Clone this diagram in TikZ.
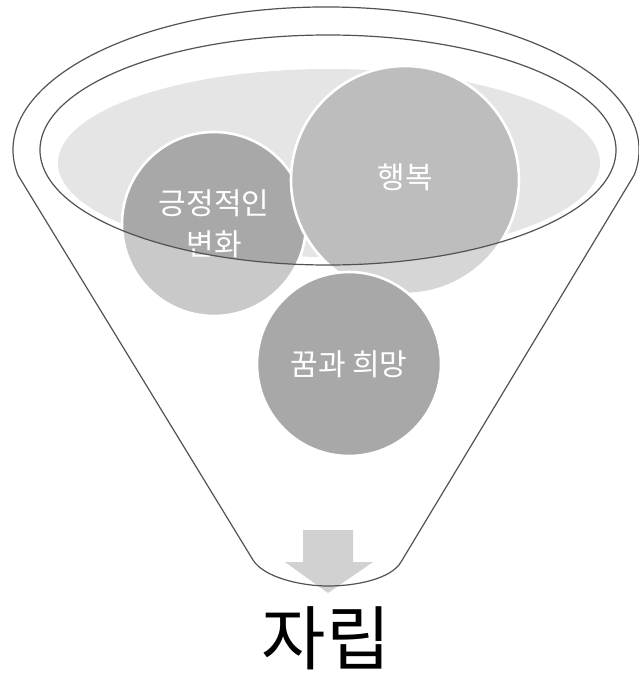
\documentclass[tikz,border=0pt]{standalone}
\usepackage{fontspec}
\newfontfamily\kr{Noto Sans CJK KR}
\begin{document}
\begin{tikzpicture}[x=1pt,y=-1pt,
  rimline/.style={draw=black!68, line width=1.2pt},
  ball/.style={circle, inner sep=0pt, draw=white, line width=2.6pt, text=white,
    font=\kr\fontsize{30}{43}\selectfont, align=center}]
\useasboundingbox (0,0) rectangle (639,677);
% light gray pool inside the rim
\fill[black!10] (329,163) ellipse [x radius=271, y radius=94];
% circles behind the rim
\node[ball, fill=black!34, minimum size=184pt] (pos) at (214,224) {\raisebox{-2pt}{긍정적인}\\변화};
\node[ball, fill=black!26, minimum size=228pt] (hap) at (405,180) {\raisebox{8pt}{행복}};
% whitish front of the funnel body
\fill[white, opacity=0.38, even odd rule]
  (17.8,174.8) arc[start angle=170, end angle=370, x radius=313, y radius=143]
  -- (401,562) .. controls (391,579) and (356,586) .. (328,586)
  .. controls (300,586) and (263.5,577) .. (253,560) -- cycle
  (328,150) ellipse [x radius=288, y radius=115];
% arrow
\fill[black!18] (303,530) -- (353,530) -- (353,562) -- (373,562) -- (328,593)
  -- (285,562) -- (303,562) -- cycle;
% funnel outline and rim
\draw[rimline, line join=round]
  (17.8,174.8) arc[start angle=170, end angle=370, x radius=313, y radius=143]
  -- (401,562) .. controls (391,579) and (356,586) .. (328,586)
  .. controls (300,586) and (263.5,577) .. (253,560) -- cycle;
\draw[rimline] (328,150) ellipse [x radius=288, y radius=115];
% front circle
\node[ball, fill=black!34, minimum size=184pt] (dream) at (349,364) {꿈과 희망};
% result
\node[font=\kr\fontsize{70}{80}\selectfont, text=black, inner sep=0pt] (goal) at (326,638) {자립};
\end{tikzpicture}
\end{document}
